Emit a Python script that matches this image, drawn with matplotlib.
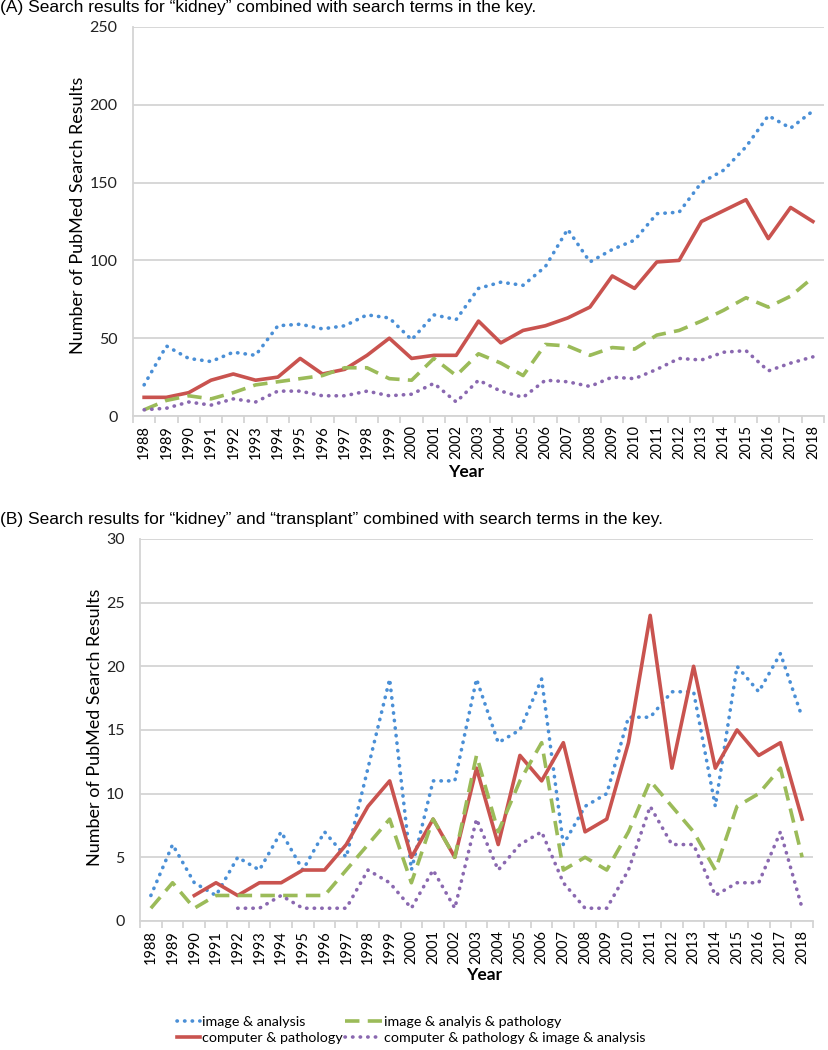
import matplotlib
matplotlib.use('Agg')
import matplotlib.pyplot as plt

years = list(range(1988, 2019))

# panel A: "kidney" + key terms
a_image_analysis = [20, 45, 37, 35, 41, 39, 58, 59, 56, 58, 65, 63, 49, 65, 62, 82,
                    86, 84, 96, 120, 99, 107, 113, 130, 131, 150, 158, 173, 193, 185, 196]
a_computer_pathology = [12, 12, 15, 23, 27, 23, 25, 37, 27, 30, 39, 50, 37, 39, 39, 61,
                        47, 55, 58, 63, 70, 90, 82, 99, 100, 125, 132, 139, 114, 134, 125]
a_image_analysis_pathology = [4, 10, 13, 11, 15, 20, 22, 24, 26, 31, 31, 24, 23, 37, 26, 40,
                              34, 26, 46, 45, 39, 44, 43, 52, 55, 61, 68, 76, 70, 77, 89]
a_all_terms = [4, 5, 9, 7, 11, 9, 16, 16, 13, 13, 16, 13, 14, 21, 9, 23,
               16, 12, 23, 22, 19, 25, 24, 30, 37, 36, 41, 42, 29, 34, 38]

# panel B: "kidney" + "transplant" + key terms (None = no result plotted)
b_image_analysis = [2, 6, 3, 2, 5, 4, 7, 4, 7, 5, 12, 19, 4, 11, 11, 19,
                    14, 15, 19, 6, 9, 10, 16, 16, 18, 18, 9, 20, 18, 21, 16]
b_computer_pathology = [None, None, 2, 3, 2, 3, 3, 4, 4, 6, 9, 11, 5, 8, 5, 12,
                        6, 13, 11, 14, 7, 8, 14, 24, 12, 20, 12, 15, 13, 14, 8]
b_image_analysis_pathology = [1, 3, 1, 2, 2, 2, 2, 2, 2, 4, 6, 8, 3, 8, 5, 13,
                              7, 11, 14, 4, 5, 4, 7, 11, 9, 7, 4, 9, 10, 12, 5]
b_all_terms = [None, None, None, None, 1, 1, 2, 1, 1, 1, 4, 3, 1, 4, 1, 8,
               4, 6, 7, 3, 1, 1, 4, 9, 6, 6, 2, 3, 3, 7, 1]

labels = ['image & analysis', 'computer & pathology',
          'image & analyis & pathology', 'computer & pathology & image & analysis']
colors = ['#4A8FD6', '#C9534F', '#9BBB59', '#8A68B0']

tick_font = ['Lato', 'DejaVu Sans']
title_font = ['Liberation Sans', 'DejaVu Sans']
grid_col = '#D4D4D4'


def draw_panel(ax, series, ymax, ystep):
    x = list(range(len(years)))
    styles = [
        dict(linestyle=(0, (0.1, 2.0)), dash_capstyle='round', lw=2.6),
        dict(linestyle='-', lw=2.6),
        dict(linestyle=(0, (4.0, 2.3)), lw=2.6),
        dict(linestyle=(0, (0.1, 2.0)), dash_capstyle='round', lw=2.6),
    ]
    lines = []
    for vals, col, st, lab in zip(series, colors, styles, labels):
        yv = [float('nan') if v is None else v for v in vals]
        ln, = ax.plot(x, yv, color=col, label=lab, **st)
        lines.append(ln)

    ax.set_xlim(-0.5, len(years) - 0.5)
    ax.set_ylim(0, ymax)
    ax.set_yticks(range(0, ymax + 1, ystep))
    ax.yaxis.grid(True, color=grid_col, lw=1.3)
    ax.set_axisbelow(True)

    # labels at categories, tick marks between categories (Excel style)
    ax.set_xticks(x)
    ax.set_xticklabels([str(y) for y in years], rotation=90, family=tick_font, fontsize=10.5)
    ax.tick_params(axis='x', which='major', length=0, pad=6.5)
    ax.set_xticks([i - 0.5 for i in range(len(years) + 1)], minor=True)
    ax.tick_params(axis='x', which='minor', length=5, color=grid_col, width=1.3)
    ax.tick_params(axis='y', length=0, pad=11, labelsize=11.5, labelcolor='#222222')
    for t in ax.get_yticklabels():
        t.set_family(tick_font)

    for side in ['top', 'right']:
        ax.spines[side].set_visible(False)
    for side in ['left', 'bottom']:
        ax.spines[side].set_color(grid_col)
        ax.spines[side].set_linewidth(1.3)
    return lines


fig = plt.figure(figsize=(8.29, 10.5), dpi=100)

ax_a = fig.add_axes([0.1604, 0.6038, 0.8336, 0.3705])
lines = draw_panel(ax_a, [a_image_analysis, a_computer_pathology,
                          a_image_analysis_pathology, a_all_terms], 250, 50)

ax_b = fig.add_axes([0.1689, 0.1229, 0.8118, 0.3638])
draw_panel(ax_b, [b_image_analysis, b_computer_pathology,
                  b_image_analysis_pathology, b_all_terms], 30, 5)

fig.text(0.0, 0.9925, '(A) Search results for \u201ckidney\u201d combined with search terms in the key.',
         family=title_font, fontsize=12.5, va='center', ha='left')
fig.text(0.0, 0.5048, '(B) Search results for \u201ckidney\u201d and \u201ctransplant\u201d combined with search terms in the key.',
         family=title_font, fontsize=12.5, va='center', ha='left')

fig.text(0.094, 0.795, 'Number of PubMed Search Results', rotation=90, family=tick_font,
         fontsize=13, va='center', ha='center')
fig.text(0.115, 0.307, 'Number of PubMed Search Results', rotation=90, family=tick_font,
         fontsize=13, va='center', ha='center')
fig.text(0.562, 0.5505, 'Year', family=tick_font, fontsize=12.5, fontweight='bold', va='center', ha='center')
fig.text(0.584, 0.0714, 'Year', family=tick_font, fontsize=12.5, fontweight='bold', va='center', ha='center')

# two separate key blocks, as in the original layout
leg_props = {'family': tick_font, 'size': 10.3}
leg1 = fig.legend(handles=[lines[0], lines[1]], frameon=False, loc='center left',
                  bbox_to_anchor=(0.2135, 0.019), borderpad=0, borderaxespad=0,
                  handlelength=1.6, handletextpad=0.15, labelspacing=0.25, prop=leg_props)
leg2 = fig.legend(handles=[lines[2], lines[3]], frameon=False, loc='center left',
                  bbox_to_anchor=(0.416, 0.019), borderpad=0, borderaxespad=0,
                  handlelength=2.6, handletextpad=0.15, labelspacing=0.25, prop=leg_props)

fig.savefig('out.png', dpi=100)
